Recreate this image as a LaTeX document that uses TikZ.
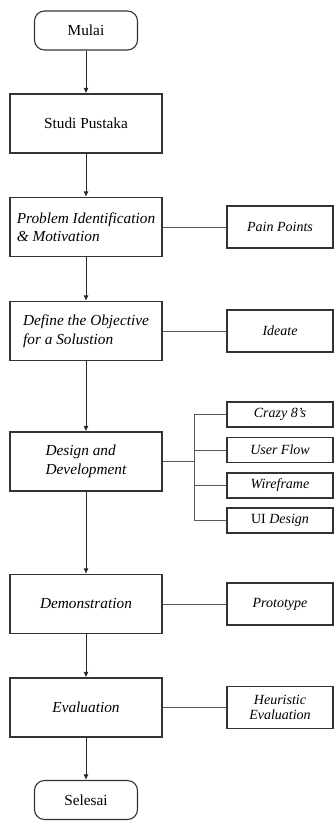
\documentclass[tikz,border=0pt]{standalone}
\usepackage{fontspec}
\setmainfont{Liberation Serif}
\usetikzlibrary{arrows.meta}

\begin{document}
\begin{tikzpicture}[
  x=1pt, y=-1pt,
  proc/.style={rectangle, draw=black!80, line width=1.1pt, minimum width=152pt, minimum height=59pt, inner sep=2pt, align=left, font=\fontsize{15.3}{18.5}\selectfont},
  iproc/.style={proc, font=\fontsize{15.3}{18.5}\selectfont\itshape},
  term/.style={rectangle, rounded corners=10pt, draw=black!80, line width=1.1pt, minimum width=103pt, minimum height=39pt, font=\fontsize{15.3}{18.5}\selectfont},
  side/.style={rectangle, draw=black!80, line width=1.1pt, minimum width=106pt, minimum height=42pt, inner sep=2pt, align=center, font=\fontsize{14}{15.5}\selectfont\itshape},
  tool/.style={side, minimum height=25pt},
  arr/.style={draw=black!85, line width=1pt, -{Latex[length=5.5pt,width=5pt]}},
  sideline/.style={draw=black!65, line width=0.9pt}
]
  \useasboundingbox (0,0) rectangle (334,821);

  % Alur utama
  \node[term]  (mulai)   at (86,30.5)  {Mulai};
  \node[proc]  (studi)   at (86,123.5) {Studi Pustaka};
  \node[iproc] (ident)   at (86,227)   {Problem Identification\\\& Motivation};
  \node[iproc] (define)  at (86,331)   {Define the Objective\\for a Solustion};
  \node[iproc] (design)  at (86,461.5) {Design and\\Development};
  \node[iproc] (demo)    at (86,604)   {Demonstration};
  \node[iproc] (eval)    at (86,707.5) {Evaluation};
  \node[term]  (selesai) at (86,800)   {Selesai};

  % Keluaran tiap tahap
  \node[side] (pain)   at (280,227)   {Pain Points};
  \node[side] (ideate) at (280,331)   {Ideate};
  \node[tool] (crazy)  at (280,414.5) {Crazy 8’s};
  \node[tool] (uflow)  at (280,450)   {User Flow};
  \node[tool] (wire)   at (280,485.5) {Wireframe};
  \node[tool] (ui)     at (280,520.5) {{\upshape UI} Design};
  \node[side] (proto)  at (280,604)   {Prototype};
  \node[side] (heur)   at (280,707.5) {Heuristic\\Evaluation};

  % Panah
  \foreach \a/\b in {mulai/studi, studi/ident, ident/define, define/design,
                     design/demo, demo/eval, eval/selesai} {
    \draw[arr] (\a) -- (\b);
  }

  % Garis ke samping
  \foreach \a/\b in {ident/pain, define/ideate, demo/proto, eval/heur} {
    \draw[sideline] (\a) -- (\b);
  }
  \coordinate (bus) at (194,461.5);
  \draw[sideline] (design) -- (bus);
  \foreach \t in {crazy, uflow, wire, ui} {
    \draw[sideline] (bus) |- (\t);
  }
\end{tikzpicture}
\end{document}
